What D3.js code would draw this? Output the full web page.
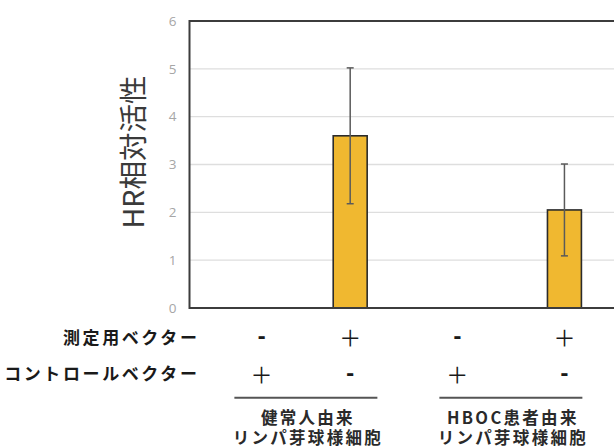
<!DOCTYPE html>
<html>
<head>
<meta charset="utf-8">
<script src="https://cdn.jsdelivr.net/npm/d3@7"></script>
<style>
  html, body { margin: 0; padding: 0; background: #fff; }
  svg { display: block; }
</style>
</head>
<body>
<svg id="chart" width="614" height="448"></svg>
<script>
// Conditions (one bar per condition) and measured relative HR activity
const conditions = ["healthy-ctrl", "healthy-test", "hboc-ctrl", "hboc-test"];
const hrActivity = [0, 3.6, 0, 2.05];
const hrError = [0, 1.42, 0, 0.96];
const yTicks = [0, 1, 2, 3, 4, 5, 6];

// Vector table rows below the plot
const rowLabels = ["測定用ベクター", "コントロールベクター"];
const testVector = ["-", "+", "-", "+"];
const controlVector = ["+", "-", "+", "-"];

// Cell-line groups
const groupLabels = [["健常人由来", "リンパ芽球様細胞"], ["HBOC患者由来", "リンパ芽球様細胞"]];
const groupMembers = [[0, 1], [2, 3]];

const yTitle = "HR相対活性";

const svg = d3.select("#chart");
const plot = { left: 189.5, top: 21, right: 618, bottom: 308 };
const jp = "'Noto Sans CJK JP', 'Noto Sans', sans-serif";

const x = d3.scaleBand()
  .domain(conditions)
  .range([plot.left, plot.right])
  .paddingInner(0.683)
  .paddingOuter(0.3415);

const y = d3.scaleLinear().domain([0, 6]).range([plot.bottom, plot.top]);

// Horizontal gridlines
svg.append("g")
  .selectAll("line")
  .data(yTicks.filter(t => t > 0 && t < 6))
  .join("line")
  .attr("x1", plot.left).attr("x2", plot.right)
  .attr("y1", d => y(d)).attr("y2", d => y(d))
  .attr("stroke", "#dedede").attr("stroke-width", 1.4);

// Y axis labels
const yAxis = d3.axisLeft(y).tickValues(yTicks).tickFormat(d3.format("d")).tickSize(0).tickPadding(13);
const gy = svg.append("g").attr("transform", `translate(${plot.left},0)`).call(yAxis);
gy.select(".domain").remove();
gy.selectAll("text")
  .attr("fill", "#a6a6a6")
  .style("font-family", "'Open Sans', 'Noto Sans', sans-serif")
  .style("font-size", "13.5px");

// Bars
svg.append("g")
  .selectAll("rect")
  .data(conditions.map((c, i) => ({ c, v: hrActivity[i] })).filter(d => d.v > 0))
  .join("rect")
  .attr("x", d => x(d.c))
  .attr("y", d => y(d.v))
  .attr("width", x.bandwidth())
  .attr("height", d => y(0) - y(d.v))
  .attr("fill", "#f0b830")
  .attr("stroke", "#2b2b2b")
  .attr("stroke-width", 1.6);

// Error bars
const err = svg.append("g")
  .selectAll("g")
  .data(conditions.map((c, i) => ({ c, v: hrActivity[i], e: hrError[i] })).filter(d => d.e > 0))
  .join("g")
  .attr("stroke", "#5a5a5a")
  .attr("stroke-width", 1.5);
const cx = d => x(d.c) + x.bandwidth() / 2;
err.append("line")
  .attr("x1", cx).attr("x2", cx)
  .attr("y1", d => y(d.v + d.e)).attr("y2", d => y(d.v - d.e));
err.append("line")
  .attr("x1", d => cx(d) - 3.5).attr("x2", d => cx(d) + 3.5)
  .attr("y1", d => y(d.v + d.e)).attr("y2", d => y(d.v + d.e));
err.append("line")
  .attr("x1", d => cx(d) - 3.5).attr("x2", d => cx(d) + 3.5)
  .attr("y1", d => y(d.v - d.e)).attr("y2", d => y(d.v - d.e));

// Plot frame (top, left, bottom)
svg.append("path")
  .attr("d", `M${plot.right},${plot.top}H${plot.left}V${plot.bottom}H${plot.right}`)
  .attr("fill", "none")
  .attr("stroke", "#3c3c3c")
  .attr("stroke-width", 2);

// Y title
svg.append("text")
  .attr("transform", `translate(131,152) rotate(-90)`)
  .attr("text-anchor", "middle")
  .attr("dominant-baseline", "central")
  .attr("fill", "#3a3a3a")
  .style("font-family", jp)
  .style("font-size", "28.5px")
  .text(yTitle);

// Table columns follow the bar positions; the first column sits a bit to the right
const colX = conditions.map((c, i) => x(c) + x.bandwidth() / 2 + (i === 0 ? 18.5 : 0));
const rowY = [336, 372.5];

const rows = svg.append("g");
rows.selectAll("text.rowlabel")
  .data(rowLabels)
  .join("text")
  .attr("class", "rowlabel")
  .attr("x", 199.5)
  .attr("y", (d, i) => rowY[i])
  .attr("text-anchor", "end")
  .attr("dominant-baseline", "central")
  .attr("fill", "#1a1a1a")
  .style("font-family", jp)
  .style("font-weight", "700")
  .style("font-size", "17px")
  .style("letter-spacing", "2.6px")
  .text(d => d);

[testVector, controlVector].forEach((signs, r) => {
  rows.append("g")
    .selectAll("text")
    .data(signs)
    .join("text")
    .attr("x", (d, i) => colX[i])
    .attr("y", rowY[r])
    .attr("text-anchor", "middle")
    .attr("dominant-baseline", "central")
    .attr("fill", "#1a1a1a")
    .style("font-family", d => d === "+" ? jp : "'DejaVu Sans', sans-serif")
    .style("font-weight", d => d === "+" ? "400" : "700")
    .style("font-size", d => d === "+" ? "22px" : "20px")
    .text(d => d === "+" ? "＋" : "-");
});

// Group underlines and labels
const groups = svg.append("g")
  .selectAll("g")
  .data(groupMembers.map((m, i) => ({ m, label: groupLabels[i] })))
  .join("g");
const gcx = d => (colX[d.m[0]] + colX[d.m[1]]) / 2;
groups.append("line")
  .attr("x1", d => gcx(d) - 71.5).attr("x2", d => gcx(d) + 71.5)
  .attr("y1", 397.7).attr("y2", 397.7)
  .attr("stroke", "#555").attr("stroke-width", 2);
groups.each(function (d) {
  d3.select(this).selectAll("text")
    .data(d.label)
    .join("text")
    .attr("x", gcx(d) + 2)
    .attr("y", (t, i) => 416.5 + i * 20.5)
    .attr("text-anchor", "middle")
    .attr("dominant-baseline", "central")
    .attr("fill", "#2a2a2a")
    .style("font-family", jp)
    .style("font-weight", "700")
    .style("font-size", "16.5px")
    .style("letter-spacing", "2.3px")
    .text(t => t);
});
</script>
</body>
</html>
